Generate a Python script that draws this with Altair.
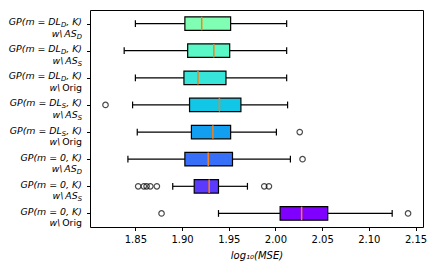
import altair as alt
import pandas as pd

# ---- data (top row first) ----
line1 = ["DL_D", "DL_D", "DL_D", "DL_S", "DL_S", "0", "0", "0"]
line2 = ["AS_D", "AS_S", "Orig", "AS_S", "Orig", "AS_D", "AS_S", "Orig"]
positions = [8, 7, 6, 5, 4, 3, 2, 1]
whisk_lo = [1.850, 1.838, 1.850, 1.847, 1.852, 1.842, 1.890, 1.939]
q1 = [1.903, 1.906, 1.902, 1.908, 1.910, 1.903, 1.913, 2.005]
median = [1.921, 1.934, 1.917, 1.940, 1.933, 1.928, 1.929, 2.028]
q3 = [1.952, 1.951, 1.947, 1.963, 1.952, 1.954, 1.939, 2.056]
whisk_hi = [2.012, 2.012, 2.012, 2.013, 2.001, 2.016, 1.970, 2.125]
outliers = [[], [], [], [1.818], [2.026], [2.029],
            [1.853, 1.859, 1.862, 1.866, 1.873, 1.988, 1.993],
            [1.878, 2.142]]
colors = ["#80ffb4", "#5bf8c7", "#37e6d8", "#12c7e6", "#129ff1", "#376ff8", "#5b39fd", "#8000ff"]
x_ticks = [1.85, 1.90, 1.95, 2.00, 2.05, 2.10, 2.15]

XMIN, XMAX = 1.8014, 2.158
W, H = 333, 217
FONT = "DejaVu Sans"
FS = 9.4
SUB = 6.8
PXY = H / 8.0  # pixels per y unit

box = pd.DataFrame({
    "pos": positions, "lo": whisk_lo, "q1": q1, "med": median, "q3": q3, "hi": whisk_hi,
    "color": colors,
})
box["ylo"] = box["pos"] - 0.25
box["yhi"] = box["pos"] + 0.25
box["clo"] = box["pos"] - 0.125
box["chi"] = box["pos"] + 0.125

out = pd.DataFrame([{"pos": p, "v": v} for p, vs in zip(positions, outliers) for v in vs])

# ---- label layout (DejaVu Sans advance widths, em) ----
ADV = {" ": .318, "(": .390, ")": .390, ",": .318, "0": .636, "=": .838, "\\": .337,
       "A": .684, "D": .770, "G": .779, "K": .656, "L": .557, "O": .787, "P": .603,
       "S": .635, "g": .635, "i": .278, "m": .974, "r": .411, "w": .818}


def wid(s, size):
    return sum(ADV.get(c, .6) for c in s) * size


def segs_line1(m):
    if m == "0":
        return [("GP(m = 0, K)", "it")]
    base, sub = m.split("_")
    return [("GP(m = " + base, "it"), (sub, "sub"), (", K)", "it")]


def segs_line2(t):
    if t == "Orig":
        return [("w\\", "it"), ("_sp", "sp"), ("Orig", "rm")]
    base, sub = t.split("_")
    return [("w\\", "it"), ("_sp", "sp"), (base, "it"), (sub, "sub")]


rows = []
RIGHT = -8.0
for p, a, b in zip(positions, line1, line2):
    for segs, ydpx in ((segs_line1(a), -1.5), (segs_line2(b), 10.0)):
        widths = []
        for txt, kind in segs:
            if kind == "sp":
                widths.append(0.2 * FS)
            elif kind == "sub":
                widths.append(wid(txt, SUB))
            else:
                widths.append(wid(txt, FS))
        x = RIGHT - sum(widths)
        for (txt, kind), w in zip(segs, widths):
            if kind != "sp":
                rows.append({"txt": txt, "kind": kind,
                             "xv": XMIN + x / W * (XMAX - XMIN),
                             "yv": p - ydpx / PXY})
            x += w
lab = pd.DataFrame(rows)

xs = alt.Scale(domain=[XMIN, XMAX], nice=False, zero=False)
ys = alt.Scale(domain=[0.5, 8.5], nice=False, zero=False)

x_axis = alt.Axis(values=x_ticks, format=".2f", grid=False, domain=False,
                  tickSize=3.5, tickColor="black", labelFontSize=10, labelFont=FONT,
                  labelColor="black", labelPadding=3.5,
                  title="log₁₀(MSE)", titleFont=FONT, titleFontSize=10,
                  titleFontStyle="italic", titleFontWeight="normal",
                  titleColor="black", titlePadding=6)
y_axis = alt.Axis(values=list(range(1, 9)), labels=False, grid=False, domain=False,
                  tickSize=3.5, tickColor="black", title=None)


def X(f):
    return alt.X(f, scale=xs, axis=x_axis)


def Y(f):
    return alt.Y(f, scale=ys, axis=y_axis)


base = alt.Chart(box)

boxes = base.mark_rect(stroke="black", strokeWidth=1.2).encode(
    x=X("q1:Q"), x2="q3:Q", y=Y("ylo:Q"), y2="yhi:Q",
    fill=alt.Color("color:N", scale=None),
)

wl = base.mark_rule(color="black", strokeWidth=1.2).encode(x=X("lo:Q"), x2="q1:Q", y=Y("pos:Q"))
wh = base.mark_rule(color="black", strokeWidth=1.2).encode(x=X("q3:Q"), x2="hi:Q", y=Y("pos:Q"))
cl = base.mark_rule(color="black", strokeWidth=1.2).encode(x=X("lo:Q"), y=Y("clo:Q"), y2="chi:Q")
ch = base.mark_rule(color="black", strokeWidth=1.2).encode(x=X("hi:Q"), y=Y("clo:Q"), y2="chi:Q")
med = base.mark_rule(color="#ff7f0e", strokeWidth=1.5).encode(x=X("med:Q"), y=Y("ylo:Q"), y2="yhi:Q")

pts = alt.Chart(out).mark_point(shape="circle", filled=False, color="black",
                                size=30, strokeWidth=1.2).encode(x=X("v:Q"), y=Y("pos:Q"))

lb = alt.Chart(lab)
t_it = lb.transform_filter(alt.datum.kind == "it").mark_text(
    align="left", baseline="middle", font=FONT, fontSize=FS, fontStyle="italic", color="black"
).encode(x=X("xv:Q"), y=Y("yv:Q"), text="txt:N")
t_rm = lb.transform_filter(alt.datum.kind == "rm").mark_text(
    align="left", baseline="middle", font=FONT, fontSize=FS, color="black"
).encode(x=X("xv:Q"), y=Y("yv:Q"), text="txt:N")
t_sub = lb.transform_filter(alt.datum.kind == "sub").mark_text(
    align="left", baseline="middle", font=FONT, fontSize=SUB, fontStyle="italic", color="black", dy=3
).encode(x=X("xv:Q"), y=Y("yv:Q"), text="txt:N")

chart = alt.layer(boxes, wl, wh, cl, ch, med, pts, t_it, t_rm, t_sub).properties(
    width=W, height=H,
    autosize=alt.AutoSizeParams(type="none"),
    padding={"left": 82, "top": 2, "right": 5, "bottom": 34},
).configure_view(stroke="black", strokeWidth=1)

chart.save("out.html", embed_options={"renderer": "svg", "actions": False})
